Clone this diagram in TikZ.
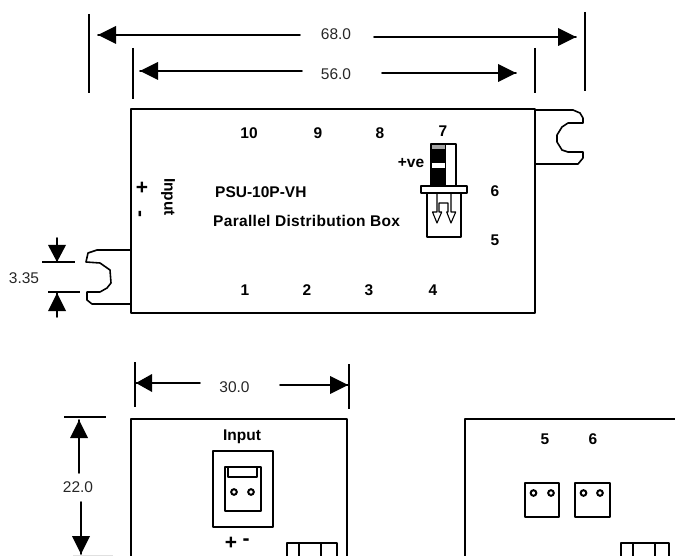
\documentclass[tikz,border=0pt]{standalone}
\usepackage{fontspec}
\setmainfont{Liberation Sans}
\tikzset{
  x=1pt,y=-1pt,
  ln/.style={line width=1.6pt,line cap=round,line join=round},
  thin ln/.style={line width=1.4pt},
  head/.style={fill=black,draw=none},
  hole/.style={line width=2pt},
  dimtxt/.style={font=\fontsize{15.5}{18}\selectfont,text=black!85,inner sep=0pt},
  lab/.style={font=\fontsize{15.5}{18}\selectfont\bfseries,inner sep=0pt},
  sign/.style={font=\fontsize{21}{24}\selectfont\bfseries,inner sep=0pt},
}
\begin{document}
\begin{tikzpicture}
\useasboundingbox (0,0) rectangle (675,556);
% ---- named anchors for the dimension lines
\coordinate (a68l) at (98,35);   \coordinate (a68le) at (300,35);
\coordinate (a68r) at (576,37);  \coordinate (a68rs) at (374,37);
\coordinate (a56l) at (140,71);  \coordinate (a56le) at (302,71);
\coordinate (a56r) at (516,73);  \coordinate (a56rs) at (382,73);
\coordinate (a30l) at (136,383); \coordinate (a30le) at (200,383);
\coordinate (a30r) at (348,385); \coordinate (a30rs) at (280,385);
% extension lines
\draw[thin ln] (89,14) -- (89,93);
\draw[thin ln] (585,12) -- (585,91);
\draw[thin ln] (133,48) -- (133,99);
\draw[thin ln] (535,48) -- (535,93);
\draw[thin ln] (135,362) -- (135,407);
\draw[thin ln] (349,364) -- (349,409);
\draw[thin ln] (64,417) -- (105.5,417);
\draw[thin ln] (42,262) -- (75,262);
\draw[thin ln] (48,292) -- (80,292);
\draw[line width=1pt,black!12] (72.7,555.5) -- (112.7,555.5);
% arrows
\draw[ln] (a68le) -- (a68l);
\fill[head] (a68l) -- ++(18,-9) -- ++(0,18) -- cycle;
\draw[ln] (a68rs) -- (a68r);
\fill[head] (a68r) -- ++(-18,-9) -- ++(0,18) -- cycle;
\draw[ln] (a56le) -- (a56l);
\fill[head] (a56l) -- ++(18,-9) -- ++(0,18) -- cycle;
\draw[ln] (a56rs) -- (a56r);
\fill[head] (a56r) -- ++(-18,-9) -- ++(0,18) -- cycle;
\draw[ln] (a30le) -- (a30l);
\fill[head] (a30l) -- ++(16,-9) -- ++(0,18) -- cycle;
\draw[ln] (a30rs) -- (a30r);
\fill[head] (a30r) -- ++(-18,-9) -- ++(0,18) -- cycle;
\coordinate (a22t) at (79,420); \coordinate (a22b) at (81,554);
\draw[ln] (79,473) -- (a22t);
\fill[head] (a22t) -- ++(-9,18) -- ++(18,0) -- cycle;
\draw[ln] (81,502) -- (a22b);
\fill[head] (a22b) -- ++(-9,-18) -- ++(18,0) -- cycle;
\coordinate (a3t) at (57,262); \coordinate (a3b) at (57,293);
\draw[ln] (57,238) -- (a3t);
\fill[head] (a3t) -- ++(-9,-17) -- ++(18,0) -- cycle;
\draw[ln] (57,317) -- (a3b);
\fill[head] (a3b) -- ++(-9,18) -- ++(18,0) -- cycle;
% dimension texts
\node[dimtxt] (t68) at (336,34) {68.0};
\node[dimtxt] (t56) at (336,74) {56.0};
\node[dimtxt] (t30) at (234.5,387) {30.0};
\node[dimtxt] (t22) at (78,487) {22.0};
\node[dimtxt] (t335) at (24,278) {3.35};
% main box
\draw[ln] (131,109) rectangle (535,313);
% right ear
\draw[ln] (535,110) -- (573,110) -- (580,113) -- (583,118) -- (583,123) -- (568,123)
  -- (562,127) -- (557,135) -- (557,142) -- (562,150) -- (568,152) -- (583,152)
  -- (583,158) -- (578,164) -- (535,164);
% left ear
\draw[ln] (130,250) -- (97,250) -- (88,253) -- (86,262) -- (100,263) -- (110,270)
  -- (111,283) -- (107,288) -- (100,292) -- (87,292) -- (87,300) -- (92,304) -- (130,304);
% main box labels
\node[lab] (n10) at (249,133) {10};
\node[lab] (n9) at (318,133) {9};
\node[lab] (n8) at (380,133) {8};
\node[lab] (n7) at (443,131) {7};
\node[lab] (n6) at (495,191) {6};
\node[lab] (n5) at (495,240) {5};
\node[lab] (n1) at (245,290) {1};
\node[lab] (n2) at (307,290) {2};
\node[lab] (n3) at (369,290) {3};
\node[lab] (n4) at (433,290) {4};
\node[sign] (plus) at (142,188) {+};
\node[sign,rotate=90] (minus) at (142,214) {-};
\node[lab,rotate=-90] (inp) at (168,197) {Input};
\node[lab,anchor=west] (psu) at (215,192) {PSU-10P-VH};
\node[lab,anchor=west] (pdb) at (213,220.5) {\addfontfeature{LetterSpace=2}Parallel Distribution Box};
\node[lab] (ve) at (411,163) {+ve};
% connector
\draw[ln,fill=white] (431,144) rectangle (456,186);
\fill (431,144) rectangle (446,186);
\fill[black!35] (432,145) rectangle (445,149);
\fill[white] (432,163) rectangle (445,168);
\draw[ln,fill=white] (421,186) rectangle (467,193);
\draw[ln] (427,193) rectangle (461,237);
% open arrows in connector
\draw[line width=1.1pt,line join=round] (437,193) -- (437,212) -- (432.5,212) -- (437,223) -- (441.7,212) -- (439,212)
  -- (439,203) -- (448,203) -- (448,212) -- (446.7,212) -- (451,223) -- (455.7,212) -- (451,212) -- (451,193);
% lower left box
\draw[ln] (131,570) -- (131,419) -- (347,419) -- (347,570);
\node[lab] (inp2) at (242,436.5) {Input};
\draw[ln] (213,451) rectangle (273,527);
\draw[ln] (225,467) rectangle (261,511);
\draw[ln] (228,467) rectangle (257,477);
\draw[hole] (234,492) circle (2.8);
\draw[hole] (251,492) circle (2.8);
\node[sign] (p2) at (231,543) {+};
\node[sign] (m2) at (246,542) {-};
\draw[ln] (287,570) -- (287,543) -- (337,543) -- (337,570);
\draw[ln] (299,543) -- (299,570);
\draw[ln] (321,543) -- (321,570);
% lower right box
\draw[ln] (465,570) -- (465,419) -- (690,419);
\node[lab] (r5) at (545,439) {5};
\node[lab] (r6) at (593,439) {6};
\draw[ln] (525,483) rectangle (559,517);
\draw[ln] (575,483) rectangle (610,517);
\draw[hole] (533.5,493) circle (2.8);
\draw[hole] (551,493) circle (2.8);
\draw[hole] (583.5,493) circle (2.8);
\draw[hole] (600,493) circle (2.8);
\draw[ln] (621,570) -- (621,543) -- (669,543) -- (669,570);
\draw[ln] (633,543) -- (633,570);
\draw[ln] (655,543) -- (655,570);
\end{tikzpicture}
\end{document}
